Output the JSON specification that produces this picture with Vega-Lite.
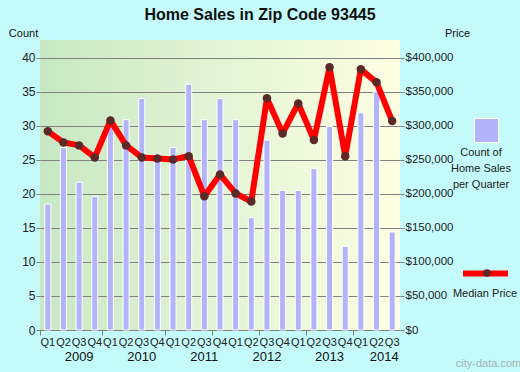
{
  "$schema": "https://vega.github.io/schema/vega-lite/v6.json",
  "width": 360,
  "height": 290,
  "autosize": {"type": "none"},
  "padding": {"left": 40, "top": 40, "right": 120, "bottom": 42},
  "background": "#c4fafa",
  "title": {
    "text": "Home Sales in Zip Code 93445",
    "font": "Liberation Sans",
    "fontSize": 16,
    "fontWeight": "bold",
    "color": "#111111",
    "anchor": "middle",
    "frame": "group",
    "dx": 40,
    "offset": 4
  },
  "config": {
    "font": "Liberation Sans",
    "view": {
      "stroke": null,
      "fill": {
        "gradient": "linear",
        "x1": 0, "y1": 0, "x2": 1, "y2": 0,
        "stops": [
          {"offset": 0, "color": "#c8e8c4"},
          {"offset": 0.5, "color": "#e4f4d6"},
          {"offset": 1, "color": "#fdfee2"}
        ]
      }
    }
  },
  "data": {
    "values": [
      {"q": "2009 Q1", "count": 18.5, "price": 291800},
      {"q": "2009 Q2", "count": 26.8, "price": 275600},
      {"q": "2009 Q3", "count": 21.7, "price": 271200},
      {"q": "2009 Q4", "count": 19.6, "price": 253500},
      {"q": "2010 Q1", "count": 30.8, "price": 307900},
      {"q": "2010 Q2", "count": 30.9, "price": 271200},
      {"q": "2010 Q3", "count": 34.0, "price": 253500},
      {"q": "2010 Q4", "count": 25.8, "price": 252000},
      {"q": "2011 Q1", "count": 26.8, "price": 250600},
      {"q": "2011 Q2", "count": 36.1, "price": 255400},
      {"q": "2011 Q3", "count": 30.9, "price": 196600},
      {"q": "2011 Q4", "count": 34.0, "price": 228500},
      {"q": "2012 Q1", "count": 30.9, "price": 200600},
      {"q": "2012 Q2", "count": 16.5, "price": 188800},
      {"q": "2012 Q3", "count": 27.9, "price": 340300},
      {"q": "2012 Q4", "count": 20.5, "price": 288800},
      {"q": "2013 Q1", "count": 20.5, "price": 332900},
      {"q": "2013 Q2", "count": 23.7, "price": 279000},
      {"q": "2013 Q3", "count": 29.9, "price": 385900},
      {"q": "2013 Q4", "count": 12.3, "price": 255400},
      {"q": "2014 Q1", "count": 31.9, "price": 382900},
      {"q": "2014 Q2", "count": 35.0, "price": 363800},
      {"q": "2014 Q3", "count": 14.4, "price": 306900}
    ]
  },
  "layer": [
    {
      "mark": {"type": "bar", "size": 6, "stroke": "white", "strokeWidth": 1},
      "encoding": {
        "x": {
          "field": "q", "type": "ordinal", "sort": null,
          "scale": {"paddingInner": 0, "paddingOuter": 0},
          "axis": {
            "orient": "bottom",
            "labelExpr": "substring(datum.value, 5)",
            "labelAngle": 0,
            "labelFontSize": 11,
            "labelColor": "#222222",
            "labelPadding": 6,
            "ticks": false,
            "tickSize": 0,
            "domain": false,
            "grid": false,
            "title": "city-data.com",
            "titleFontSize": 11,
            "titleFontWeight": "normal",
            "titleColor": "#9fb4b4",
            "titleX": 448,
            "titleY": 36,
            "titleAlign": "center",
            "titleBaseline": "alphabetic"
          }
        },
        "y": {
          "field": "count", "type": "quantitative",
          "scale": {"domain": [0, 42.6], "nice": false},
          "axis": {
            "orient": "left",
            "values": [0, 5, 10, 15, 20, 25, 30, 35, 40],
            "grid": true,
            "gridColor": "#808080",
            "gridOpacity": 1,
            "gridWidth": 1,
            "domain": false,
            "tickSize": 4,
            "tickColor": "#808080",
            "labelPadding": 1,
            "labelFontSize": 12,
            "labelColor": "#222222",
            "title": "Count",
            "titleAngle": 0,
            "titleX": -17,
            "titleY": -4,
            "titleAlign": "center",
            "titleBaseline": "alphabetic",
            "titleFontSize": 11,
            "titleFontWeight": "normal",
            "titleColor": "#111111"
          }
        },
        "color": {
          "datum": "Count of Home Sales per Quarter",
          "scale": {"range": ["#b3b3fa"]},
          "legend": {
            "orient": "none",
            "legendX": 411,
            "legendY": 78,
            "title": ["Count of", "Home Sales", "per Quarter"],
            "titleOrient": "bottom",
            "titleAnchor": "middle",
            "titleAlign": "center",
            "titleFontSize": 11,
            "titleFontWeight": "normal",
            "titleColor": "#222222",
            "titleLineHeight": 16,
            "titlePadding": 2,
            "labelExpr": "''",
            "symbolType": "square",
            "symbolSize": 576,
            "symbolStrokeColor": "white",
            "symbolStrokeWidth": 1,
            "symbolOffset": 16
          }
        }
      }
    },
    {
      "encoding": {
        "x": {
          "field": "q", "type": "ordinal", "sort": null,
          "axis": {
            "orient": "bottom",
            "bandPosition": 0,
            "values": ["2009 Q1", "2009 Q3", "2010 Q1", "2010 Q3", "2011 Q1", "2011 Q3", "2011 Q4", "2012 Q3", "2013 Q2", "2013 Q3", "2014 Q1", "2014 Q2"],
            "labelExpr": "(substring(datum.value, 5) === 'Q3' || datum.value === '2014 Q2') ? substring(datum.value, 0, 4) : ''",
            "labelAngle": 0,
            "labelFontSize": 13,
            "labelColor": "#111111",
            "labelPadding": 15,
            "labelOffset": {"condition": {"test": "datum.value === '2014 Q2'", "value": 7.8}, "value": 0},
            "tickSize": 5,
            "tickColor": "#808080",
            "tickOpacity": {"condition": {"test": "indexof(['2009 Q1','2010 Q1','2011 Q1','2011 Q4','2012 Q3','2013 Q2','2014 Q1'], datum.value) >= 0", "value": 1}, "value": 0},
            "domain": false,
            "grid": false,
            "title": null
          }
        },
        "y": {
          "field": "price", "type": "quantitative",
          "scale": {"domain": [0, 426000], "nice": false},
          "axis": {
            "orient": "right",
            "values": [0, 50000, 100000, 150000, 200000, 250000, 300000, 350000, 400000],
            "format": "$,d",
            "grid": false,
            "domain": false,
            "tickSize": 4,
            "tickColor": "#808080",
            "labelPadding": 1,
            "labelFontSize": 11.5,
            "labelColor": "#222222",
            "title": "Price",
            "titleAngle": 0,
            "titleX": 57,
            "titleY": -4,
            "titleAlign": "center",
            "titleBaseline": "alphabetic",
            "titleFontSize": 11,
            "titleFontWeight": "normal",
            "titleColor": "#111111"
          }
        }
      },
      "layer": [
        {
          "mark": {"type": "line", "strokeWidth": 6, "strokeJoin": "round", "strokeCap": "round"},
          "encoding": {
            "stroke": {
              "datum": "Median Price",
              "scale": {"range": ["#ff0000"]},
              "legend": {
                "orient": "none",
                "legendX": 410,
                "legendY": 208,
                "title": "Median Price",
                "titleOrient": "bottom",
                "titleAnchor": "middle",
                "titleAlign": "center",
                "titleFontSize": 11,
                "titleFontWeight": "normal",
                "titleColor": "#222222",
                "titlePadding": 2,
                "labelExpr": "''",
                "symbolType": "stroke",
                "symbolSize": 2025,
                "symbolStrokeWidth": 6,
                "symbolOffset": 10
              }
            }
          }
        },
        {
          "mark": {"type": "circle", "size": 72, "opacity": 1},
          "encoding": {
            "fill": {
              "datum": "Median Price point",
              "scale": {"range": ["#5a2a28"]},
              "legend": {
                "orient": "none",
                "legendX": 442,
                "legendY": 228,
                "title": null,
                "labelExpr": "''",
                "symbolType": "circle",
                "symbolSize": 56,
                "symbolStrokeWidth": 0
              }
            }
          }
        }
      ]
    }
  ],
  "resolve": {"scale": {"y": "independent"}, "axis": {"x": "independent"}}
}
